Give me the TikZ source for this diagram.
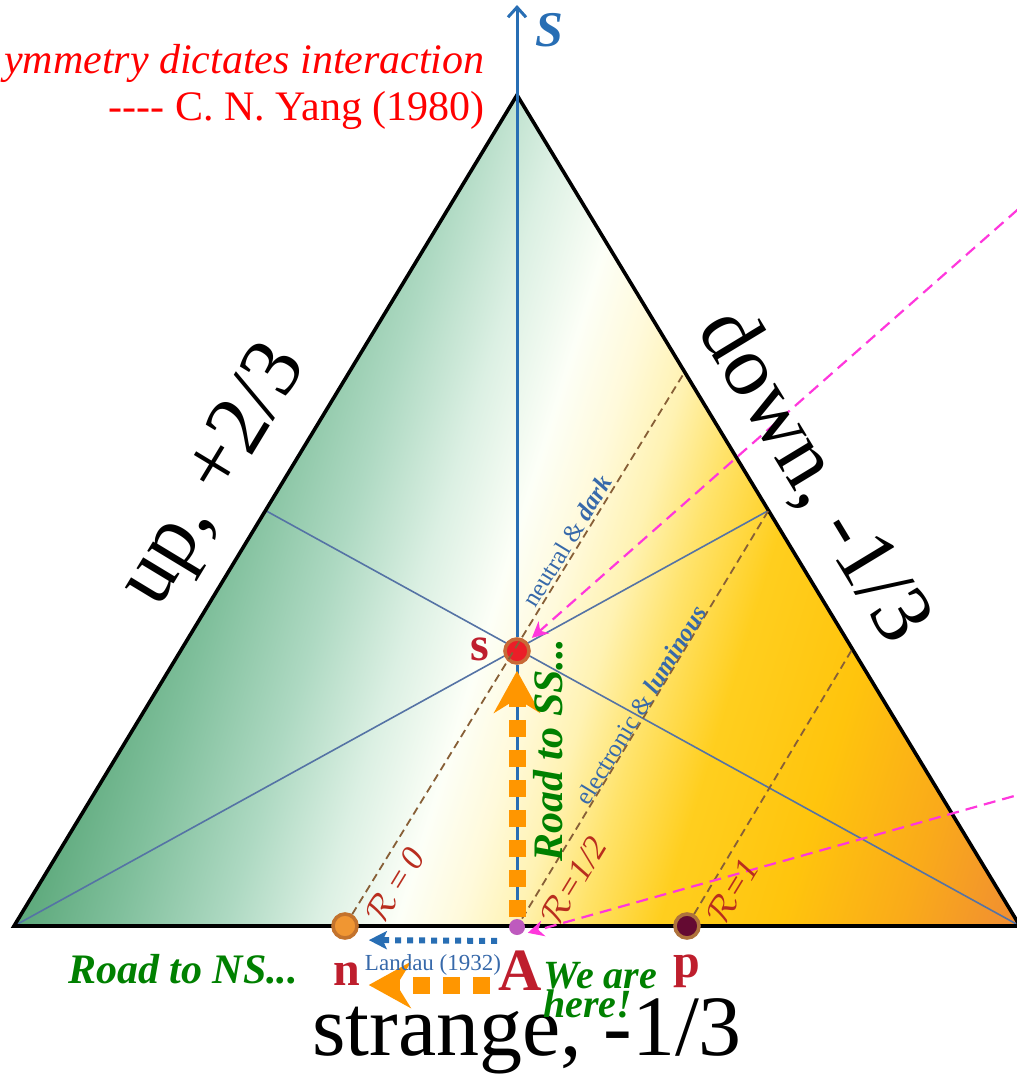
\documentclass[tikz,border=0pt]{standalone}
\usepackage{fontspec}
\setmainfont{Liberation Serif}
\usetikzlibrary{arrows.meta,calc}

\definecolor{axisblue}{RGB}{40,110,180}
\definecolor{medianblue}{RGB}{85,115,165}
\definecolor{rbrown}{RGB}{135,95,55}
\definecolor{labelred}{RGB}{190,30,45}
\definecolor{rred}{RGB}{185,45,30}
\definecolor{roadorange}{RGB}{255,150,0}
\definecolor{roadgreen}{RGB}{0,128,0}
\definecolor{pointmag}{RGB}{255,55,220}
\definecolor{textblue}{RGB}{55,105,170}
\definecolor{sred}{RGB}{235,30,40}
\definecolor{sring}{RGB}{200,105,55}
\definecolor{norange}{RGB}{240,150,50}
\definecolor{nring}{RGB}{195,115,45}
\definecolor{pmaroon}{RGB}{100,10,50}
\definecolor{pring}{RGB}{175,115,60}
\definecolor{apurple}{RGB}{190,90,190}

\pgfdeclarehorizontalshading{quarkmix}{100bp}{%
  rgb(0bp)=(0.36,0.66,0.48);
  rgb(25bp)=(0.36,0.66,0.48);
  rgb(30bp)=(0.50,0.75,0.61);
  rgb(35.5bp)=(0.68,0.85,0.76);
  rgb(40bp)=(0.86,0.94,0.89);
  rgb(44bp)=(0.99,1,0.97);
  rgb(47bp)=(1,0.98,0.86);
  rgb(50bp)=(1,0.95,0.70);
  rgb(53bp)=(1,0.89,0.42);
  rgb(57bp)=(1,0.81,0.12);
  rgb(63bp)=(1,0.77,0.05);
  rgb(69bp)=(0.98,0.67,0.1);
  rgb(75bp)=(0.94,0.55,0.2);
  rgb(100bp)=(0.94,0.55,0.2)}

\begin{document}
\begin{tikzpicture}[x=0.5pt, y=-0.5pt,
    edge/.style={line width=1.8pt, line join=miter},
    median/.style={medianblue, line width=0.8pt},
    rline/.style={rbrown, line width=0.9pt, dash pattern=on 4pt off 2.5pt},
    dot/.style={circle, inner sep=0pt, minimum size=12pt, line width=1.8pt},
    qlabel/.style={labelred, font=\fontsize{24}{24}\selectfont\bfseries, inner sep=1pt},
    axisline/.style={axisblue, line width=1.5pt},
    road/.style={roadorange, line width=8.5pt, dash pattern=on 8.5pt off 6.5pt,
        -{Stealth[length=21pt, width=23pt, inset=7pt]}},
    landau/.style={axisblue, line width=3pt, dash pattern=on 3pt off 3pt,
        -{Stealth[length=9pt, width=9pt, inset=2pt]}},
    pointer/.style={pointmag, line width=1.1pt, dash pattern=on 6pt off 3.5pt,
        -{Stealth[length=8pt, width=8pt, inset=2.5pt]}},
    side/.style={font=\fontsize{43}{43}\selectfont, inner sep=0pt},
    rtag/.style={rred, font=\fontsize{17}{17}\selectfont\itshape, inner sep=0pt, rotate=58.6},
    along/.style={textblue, font=\fontsize{12.5}{12.5}\selectfont, inner sep=0pt, rotate=58.6},
    roadtext/.style={roadgreen, font=\fontsize{21}{21}\selectfont\bfseries\itshape, inner sep=0pt},
    quote/.style={red, font=\fontsize{21}{21}\selectfont, inner sep=0pt}]

        \useasboundingbox (0,0) rectangle (1017,1077);

        % Corners and side points of the triangle
        \coordinate (L) at (14,926);
        \coordinate (T) at (517,95);
        \coordinate (Rv) at (1020,926);
        \coordinate (ML) at ($(L)!.5!(T)$);
        \coordinate (MR) at ($(T)!.5!(Rv)$);
        \coordinate (R0top) at ($(Rv)!2/3!(T)$);
        \coordinate (R1top) at ($(Rv)!1/3!(T)$);
        \coordinate (Stop) at (517,5);

        % Colour fill, green -> white -> yellow -> orange
        \begin{scope}
            \clip (L) -- (T) -- (Rv) -- cycle;
            \begin{scope}[transform canvas={shift={(517,926)}, rotate=-17}]
                \shade[shading=quarkmix] (-481,-1400) rectangle (481,1400);
            \end{scope}
        \end{scope}

        % Medians
        \draw[median] (L) -- (MR);
        \draw[median] (Rv) -- (ML);

        % Triangle
        \draw[edge] (L) -- (T) -- (Rv) -- cycle;

        % Points
        \node[dot, fill=sred, draw=sring] (s) at (517,651) {};
        \node[dot, fill=norange, draw=nring] (n) at (345,926) {};
        \node[dot, fill=pmaroon, draw=pring] (p) at (687,926) {};
        \node[dot, minimum size=8pt, fill=apurple] (A) at (517,927) {};

        % R lines
        \draw[rline] (n) -- (R0top);
        \draw[rline] (A) -- (MR);
        \draw[rline] (p) -- (R1top);

        % S axis
        \draw[axisline] (A) -- (s);
        \draw[axisline, -{Straight Barb[length=5pt, width=9pt]}] (s) -- (Stop);
        \node[axisblue, font=\fontsize{25}{25}\selectfont\bfseries\itshape, anchor=west] (Slab) at (528,30) {S};

        % Point labels
        \node[qlabel, anchor=base] (slab) at (480,660) {s};
        \node[qlabel, anchor=base] (nlab) at (347,985) {n};
        \node[qlabel, anchor=base] (plab) at (687,977) {p};
        \node[qlabel, anchor=base, font=\fontsize{30}{30}\selectfont\bfseries] (Alab) at (520,990) {A};

        % Roads
        \coordinate (roadNS) at (0,985);
        \draw[road, shorten >=3pt] (A) -- (s);
        \draw[road, shorten <=3pt, shorten >=3pt] (Alab.west |- roadNS) -- (nlab.east |- roadNS);
        \draw[landau, shorten <=5pt, shorten >=5pt] ([yshift=-7pt]A.west) -- ([yshift=-7pt]n.east);
        \node[textblue, font=\fontsize{11.5}{11.5}\selectfont, anchor=base] (landaulab) at (433,970) {Landau (1932)};

        % Pointers from outside
        \coordinate (ptrS) at (1032,197);
        \coordinate (ptrA) at (1032,791);
        \draw[pointer, shorten >=3pt] (ptrS) -- (s);
        \draw[pointer, shorten >=2pt] (ptrA) -- (A.south east);

        % Labels along the lines
        \node[along] (neutrallab) at (567,541) {neutral \& \textbf{\textit{dark}}};
        \node[along] (electronlab) at (641,705) {electronic \& \textbf{\textit{luminous}}};
        \node[rtag] (r0lab) at (395,885) {$\mathcal{R}$\,=\,0};
        \node[rtag] (r12lab) at (573,881) {$\mathcal{R}$=1/2};
        \node[rtag] (r1lab) at (732,891) {$\mathcal{R}$=1};

        % Side labels
        \node[side, rotate=58.8] (uplab) at (216,477) {up, +2/3};
        \node[side, rotate=-58.8] (downlab) at (813,477) {down, -1/3};
        \node[side, anchor=base] (strangelab) at (527,1055) {strange, -1/3};

        % Quote
        \node[quote, anchor=base east] (quote1) at (485,73) {\textit{ymmetry dictates interaction}};
        \node[quote, anchor=base east] (quote2) at (485,120) {{-}{-}{-}{-} C. N. Yang (1980)};

        % Green remarks
        \node[roadtext, anchor=base] (nsroad) at (183,983) {Road to NS...};
        \node[roadtext, anchor=base west, rotate=90] (ssroad) at (562,862) {Road to SS...};
        \node[roadtext, font=\fontsize{20}{14.5}\selectfont\bfseries\itshape, align=left, anchor=north west] (herelab) at (543,962) {We are\\here!};

    \end{tikzpicture}
\end{document}
